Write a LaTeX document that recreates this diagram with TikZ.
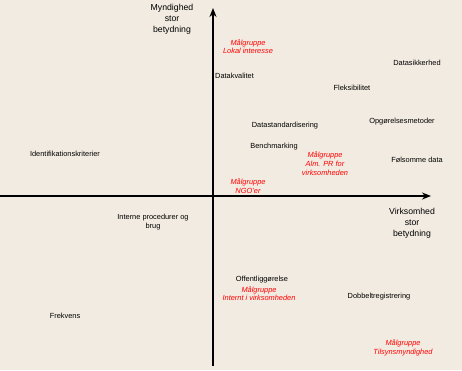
\documentclass[tikz,border=0pt]{standalone}
\usepackage{fontspec}
\setmainfont{Liberation Sans}
\usetikzlibrary{arrows.meta}
\definecolor{bg}{HTML}{F2EBE1}
\begin{document}
\begin{tikzpicture}[x=1pt,y=-1pt,
  lbl/.style={font=\fontsize{7.4}{8.7}\selectfont,align=center,inner sep=0pt,text=black},
  grp/.style={font=\fontsize{7.4}{8.7}\selectfont\itshape,align=center,inner sep=0pt,text=red},
  axlbl/.style={font=\fontsize{8.7}{11}\selectfont,align=center,inner sep=0pt},
  axis/.style={line width=1.4pt,-{Stealth[length=9pt,width=7pt]}}]
\fill[bg] (0,0) rectangle (462,370);
\useasboundingbox (0,0) rectangle (462,370);
\coordinate (vb) at (213,366);
\coordinate (vt) at (213,8);
\coordinate (hl) at (0,196);
\coordinate (hr) at (431,196);
\draw[axis] (hl) -- (hr);
\draw[axis] (vb) -- (vt);
\node[axlbl] (ylab) at (172,19) {Myndighed\\stor\\betydning};
\node[axlbl] (xlab) at (412,223) {Virksomhed\\stor\\betydning};
\node[grp] (g1) at (248,46.5) {Målgruppe\\Lokal interesse};
\node[lbl,anchor=west] (n1) at (215,76) {Datakvalitet};
\node[lbl] (n2) at (417,63) {Datasikkerhed};
\node[lbl] (n3) at (352,88) {Fleksibilitet};
\node[lbl] (n4) at (285,126) {Datastandardisering};
\node[lbl] (n5) at (402,122) {Opgørelsesmetoder};
\node[lbl] (n6) at (274,147) {Benchmarking};
\node[grp] (g2) at (325,163.5) {Målgruppe\\Alm. PR for\\virksomheden};
\node[lbl] (n7) at (417,160) {Følsomme data};
\node[grp] (g3) at (248,186) {Målgruppe\\NGO'er};
\node[lbl] (n8) at (65,154) {Identifikationskriterier};
\node[lbl] (n9) at (153,222) {Interne procedurer og\\brug};
\node[lbl] (n10) at (262,280) {Offentliggørelse};
\node[grp] (g4) at (259,293.5) {Målgruppe\\Internt i virksomheden};
\node[lbl] (n11) at (379,297) {Dobbeltregistrering};
\node[grp] (g5) at (403,347.5) {Målgruppe\\Tilsynsmyndighed};
\node[lbl] (n12) at (65,316) {Frekvens};
\end{tikzpicture}
\end{document}
